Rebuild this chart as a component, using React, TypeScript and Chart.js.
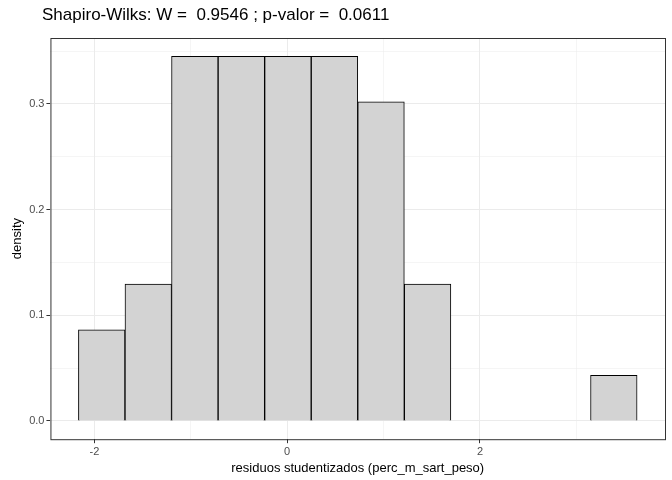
import { Chart, registerables } from 'chart.js';
import { useEffect, useRef } from 'react';

Chart.register(...registerables);

const binCenters = [-1.924, -1.441, -0.958, -0.475, 0.008, 0.491, 0.974, 1.457, 1.940, 2.423, 2.906, 3.389];
const densities = [0.0863, 0.1294, 0.3451, 0.3451, 0.3451, 0.3451, 0.3020, 0.1294, 0, 0, 0, 0.0431];
const xTicks = [-3, -2, -1, 0, 1, 2, 3];
const yTicks = [0, 0.05, 0.1, 0.15, 0.2, 0.25, 0.3, 0.35];
const titleText = 'Shapiro-Wilks: W =  0.9546 ; p-valor =  0.0611';

const panelBorder = {
  id: 'panelBorder',
  afterDraw(chart: Chart) {
    const { ctx, chartArea: a } = chart;
    ctx.save();
    ctx.strokeStyle = '#333333';
    ctx.lineWidth = 1;
    ctx.strokeRect(a.left + 0.5, a.top + 0.5, a.right - a.left, a.bottom - a.top);
    ctx.restore();
  },
};

const isMinorX = (v: number) => Math.abs(v % 2) === 1;
const isMinorY = (v: number) => Math.round(v * 100) % 10 !== 0;

export default function App() {
  const canvasRef = useRef<HTMLCanvasElement>(null);
  const chartRef = useRef<Chart | null>(null);
  const font = 'Arial, "Liberation Sans", sans-serif';

  useEffect(() => {
    if (!canvasRef.current) return;
    const ctx = canvasRef.current.getContext('2d');
    if (!ctx) return;

    chartRef.current = new Chart(ctx, {
      type: 'bar',
      data: {
        datasets: [
          {
            data: binCenters.map((x, i) => ({ x, y: densities[i] })),
            backgroundColor: '#d3d3d3',
            borderColor: '#000000',
            borderWidth: 1,
            barPercentage: 1,
            categoryPercentage: 1,
            grouped: false,
          },
        ],
      },
      options: {
        animation: false,
        responsive: false,
        layout: { padding: { left: 6, right: 7, top: 38, bottom: 4 } },
        plugins: {
          legend: { display: false },
          tooltip: { enabled: false },
        },
        scales: {
          x: {
            type: 'linear',
            offset: false,
            min: -2.456,
            max: 3.920,
            afterBuildTicks: (s) => {
              s.ticks = xTicks.map((v) => ({ value: v }));
            },
            ticks: {
              autoSkip: false,
              color: '#4d4d4d',
              font: { family: font, size: 11 },
              callback: (v) => (isMinorX(Number(v)) ? '' : String(v)),
              padding: 2,
            },
            grid: {
              offset: false,
              color: '#ebebeb',
              lineWidth: (c) => (c.tick && isMinorX(c.tick.value) ? 0.5 : 1),
              tickColor: (c) => (c.tick && isMinorX(c.tick.value) ? 'rgba(0,0,0,0)' : '#333333'),
              tickLength: 4,
            },
            border: { display: false },
            title: {
              display: true,
              text: 'residuos studentizados (perc_m_sart_peso)',
              color: '#000000',
              font: { family: font, size: 13 },
              padding: { top: 0, bottom: 0 },
            },
          },
          y: {
            min: -0.0173,
            max: 0.3624,
            afterBuildTicks: (s) => {
              s.ticks = yTicks.map((v) => ({ value: v }));
            },
            ticks: {
              autoSkip: false,
              color: '#4d4d4d',
              font: { family: font, size: 11 },
              callback: (v) => (isMinorY(Number(v)) ? '' : Number(v).toFixed(1)),
              padding: 2,
            },
            grid: {
              color: '#ebebeb',
              lineWidth: (c) => (c.tick && isMinorY(c.tick.value) ? 0.5 : 1),
              tickColor: (c) => (c.tick && isMinorY(c.tick.value) ? 'rgba(0,0,0,0)' : '#333333'),
              tickLength: 4,
            },
            border: { display: false },
            title: {
              display: true,
              text: 'density',
              color: '#000000',
              font: { family: font, size: 13 },
              padding: { top: 0, bottom: 2 },
            },
          },
        },
      },
      plugins: [panelBorder],
    });

    return () => {
      chartRef.current?.destroy();
    };
  }, []);

  return (
    <div style={{ position: 'fixed', left: 0, top: 0, width: 672, height: 480, background: '#ffffff' }}>
      <canvas ref={canvasRef} width={672} height={480} />
      <div
        style={{
          position: 'absolute',
          left: 42,
          top: 5,
          fontFamily: font,
          fontSize: 17,
          color: '#000000',
          whiteSpace: 'pre',
        }}
      >
        {titleText}
      </div>
    </div>
  );
}
